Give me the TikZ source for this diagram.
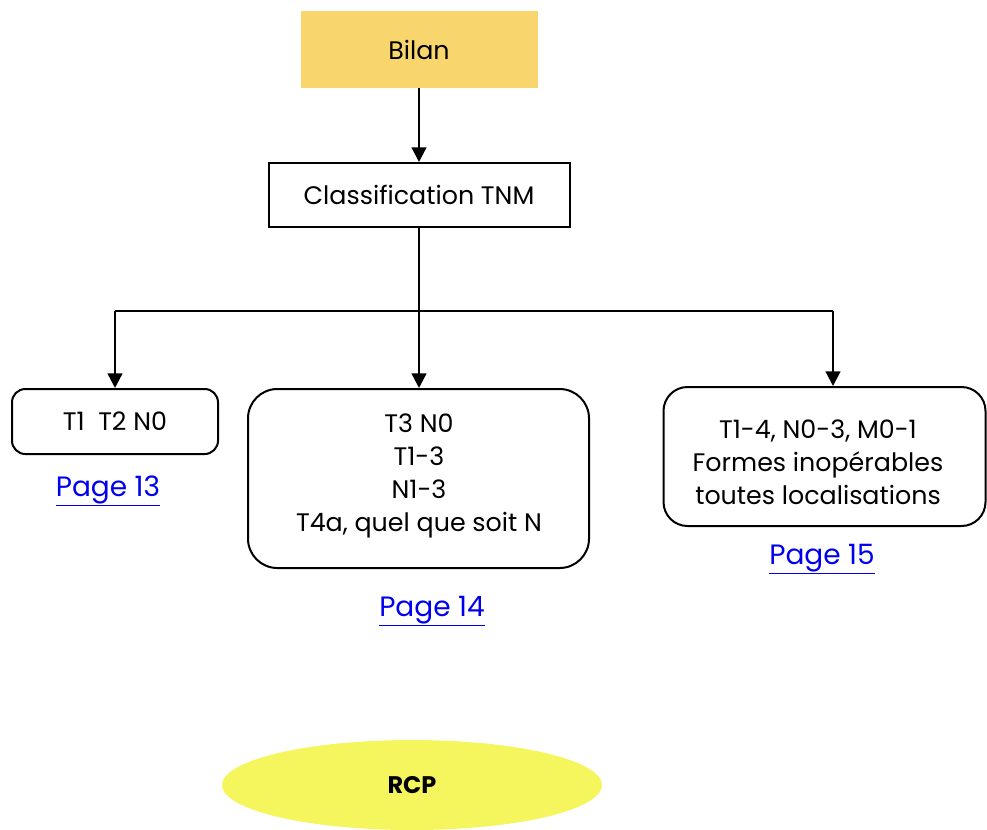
\documentclass[tikz,border=0pt]{standalone}
\usepackage{fontspec}
\setmainfont{Poppins}
\usetikzlibrary{shapes.geometric,arrows.meta}
\definecolor{bilanfill}{HTML}{F9D56D}
\definecolor{rcpfill}{HTML}{F5F65E}
\definecolor{linkblue}{HTML}{0000EE}
\tikzset{
  txt/.style={font=\fontsize{19}{24.75}\selectfont, align=center, inner sep=0pt},
  boxline/.style={draw=black, line width=1.5pt},
  arr/.style={draw=black, line width=1.8pt, -{Triangle[length=11pt,width=11pt]}},
  conn/.style={draw=black, line width=1.5pt},
  link/.style={inner sep=0pt, font=\fontsize{21}{24}\selectfont, text=linkblue},
}
\begin{document}
\begin{tikzpicture}[x=0.75pt,y=-0.75pt]
\useasboundingbox (0,0) rectangle (987,829);
% Bilan
\node[fill=bilanfill, minimum width=237*0.75pt, minimum height=77*0.75pt, inner sep=0pt] (bilan) at (419,49.5) {};
\node[txt] at (bilan) {Bilan};
% Classification
\node[boxline, minimum width=301*0.75pt, minimum height=64*0.75pt, inner sep=0pt] (classif) at (419,195) {};
\node[txt] at (classif) {Classification TNM};
\draw[arr] (bilan.south) -- (classif.north);
% boxes
\node[boxline, rounded corners=10pt, minimum width=206*0.75pt, minimum height=65*0.75pt, inner sep=0pt] (b1) at (115,421.5) {};
\node[txt] at (b1) {T1\ \ T2 N0};
\node[boxline, rounded corners=22pt, minimum width=341*0.75pt, minimum height=179*0.75pt, inner sep=0pt] (b2) at (418.5,478.5) {};
\node[txt] at (419,476) {T3 N0\\T1-3\\N1-3\\T4a, quel que soit N};
\node[boxline, rounded corners=18pt, minimum width=322*0.75pt, minimum height=139*0.75pt, inner sep=0pt] (b3) at (824.5,456.5) {};
\node[txt] at (818,462) {T1-4, N0-3, M0-1\\Formes inopérables\\toutes localisations};
% links
\node[link] (p13) at (108,491) {\underline{Page 13}};
\node[link] (p14) at (432,611) {\underline{Page 14}};
\node[link] (p15) at (822,559) {\underline{Page 15}};
% connectors
\coordinate (jl) at (115,311);
\coordinate (jr) at (833,311);
\draw[conn] (jl) -- (jr);
\draw[arr] (classif.south) -- (classif.south |- b2.north);
\draw[arr] (jl) -- (b1.north);
\draw[arr] (jr) -- (jr |- b3.north);
% RCP
\node[ellipse, fill=rcpfill, minimum width=380*0.75pt, minimum height=90*0.75pt, inner sep=0pt] (rcp) at (412,785) {};
\node[txt, font=\fontsize{18}{20}\selectfont\bfseries] at (rcp) {RCP};
\end{tikzpicture}
\end{document}
